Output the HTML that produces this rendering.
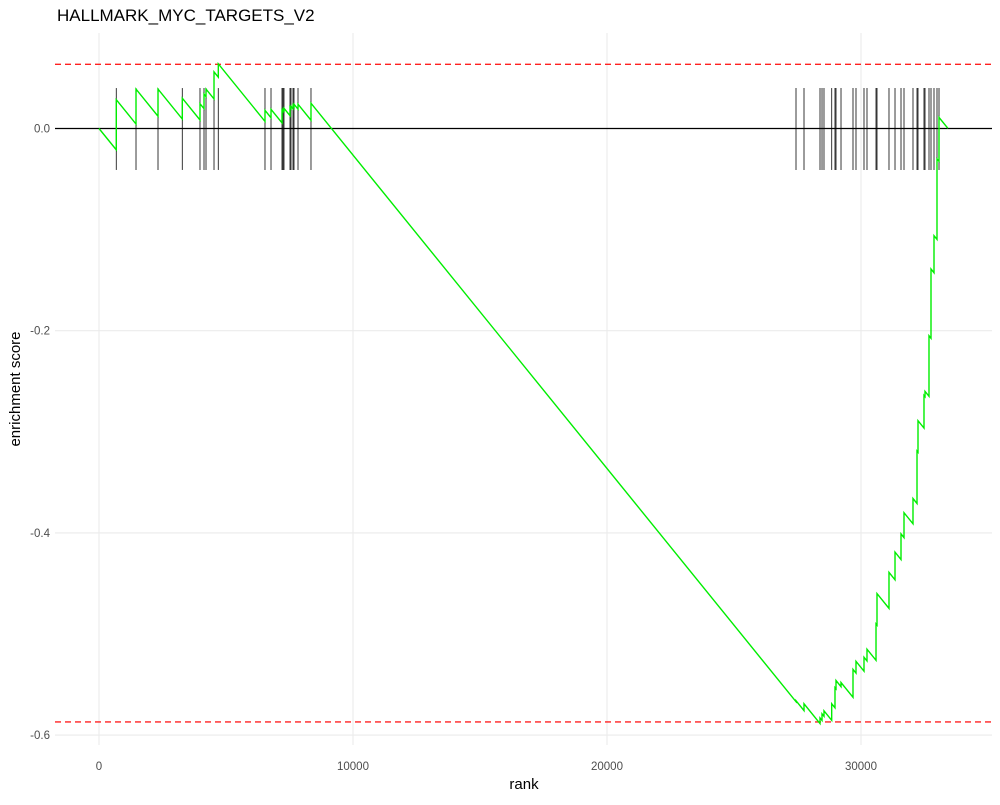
<!DOCTYPE html>
<html><head><meta charset="utf-8"><style>
body{margin:0;background:#fff;}
svg text{font-family:"Liberation Sans","DejaVu Sans",sans-serif;}
</style></head><body>
<svg id="chart" width="1000" height="800">
<text x="57" y="21" font-size="17" fill="#000">HALLMARK_MYC_TARGETS_V2</text>
<g id="grid"></g>
<g id="ticks"></g>
<g id="hits"></g>
<g id="lines"></g>
<path id="es" fill="none" stroke="#00ee00" stroke-width="1.4"/>
<text x="524" y="789" font-size="15" text-anchor="middle">rank</text>
<text transform="translate(20,389) rotate(-90)" font-size="15" text-anchor="middle">enrichment score</text>
</svg>
<script>
const xTicks=[0,10000,20000,30000];
const yTicks=[0,-0.2,-0.4,-0.6];
const yTickLabels=["0.0","-0.2","-0.4","-0.6"];
const totalGenes=33420;
const missStep=3.1e-5;
const esMax=0.0635;
const esMin=-0.587;
const hitRanks=[681,1457,2323,3280,3976,4134,4213,4528,4697,6535,6772,7205,7244,7283,7520,7559,7638,7677,7835,8346,
27441,27756,28386,28465,28543,28846,28976,29016,29213,29685,29803,30118,30236,30591,30630,31102,31339,31575,31693,32047,32205,32244,32480,32520,32677,32756,32874,32992,33071];
const hitTops=[0.0285,0.039,0.039,0.030,0.0245,0.034,0.039,0.056,0.064,0.018,0.019,0.018,0.019,0.020,0.021,0.022,0.023,0.024,0.024,0.025,
-0.566,-0.569,-0.583,-0.579,-0.576,-0.569,-0.553,-0.546,-0.548,-0.535,-0.527,-0.523,-0.515,-0.49,-0.46,-0.439,-0.419,-0.401,-0.38,-0.366,-0.319,-0.289,-0.264,-0.26,-0.205,-0.139,-0.106,-0.030,0.011];
const X=r=>99+r*0.0254;
const Y=v=>128.5-v*1011;
const NS='http://www.w3.org/2000/svg';
function mk(tag,attrs,parent){const e=document.createElementNS(NS,tag);for(const k in attrs)e.setAttribute(k,attrs[k]);parent.appendChild(e);return e;}
const grid=document.getElementById('grid'),ticks=document.getElementById('ticks');
xTicks.forEach(t=>{
 const l=mk('line',{x1:X(t),x2:X(t),y1:33,y2:745,stroke:'#ebebeb','stroke-width':1.1},grid);
 
 
 const tx=mk('text',{x:X(t),y:770,'font-size':11.5,fill:'#4d4d4d','text-anchor':'middle'},ticks);
 tx.textContent=t;
 
 
});
yTicks.forEach((t,i)=>{
 const l=mk('line',{x1:55,x2:992,y1:Y(t),y2:Y(t),stroke:'#ebebeb','stroke-width':1.1},grid);
 
 
 const tx=mk('text',{x:50,y:Y(t)+4,'font-size':11.5,fill:'#4d4d4d','text-anchor':'end'},ticks);
 tx.textContent=yTickLabels[i];
 
 
});
const hits=document.getElementById('hits');
hitRanks.forEach(r=>{
 const l=mk('line',{x1:X(r),x2:X(r),y1:Y(0.04),y2:Y(-0.041),stroke:'#222','stroke-width':0.9},hits);
 
 
});
const lines=document.getElementById('lines');
const z=mk('line',{x1:55,x2:992,y1:Y(0),y2:Y(0),stroke:'#000','stroke-width':1.3},lines);


[esMax,esMin].forEach(v=>{
 const l=mk('line',{x1:55,x2:992,y1:Y(v),y2:Y(v),stroke:'#ff2020','stroke-width':1.4,'stroke-dasharray':'6,4'},lines);
 
 
});
let d='M'+X(0)+','+Y(0),prevR=0,prevV=0;
hitRanks.forEach((r,i)=>{
 const before=prevV-missStep*(r-prevR);
 d+=' L'+X(r)+','+Y(before)+' L'+X(r)+','+Y(hitTops[i]);
 prevR=r;prevV=hitTops[i];
});
d+=' L'+X(totalGenes)+','+Y(prevV-missStep*(totalGenes-prevR));
document.getElementById('es').setAttribute('d',d);
</script>
</body></html>
